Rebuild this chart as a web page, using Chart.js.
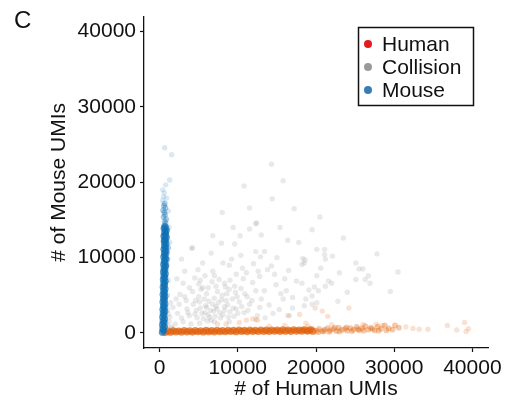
<!DOCTYPE html>
<html><head><meta charset="utf-8">
<script src="https://cdn.jsdelivr.net/npm/chart.js@4.4.1/dist/chart.umd.min.js"></script>
<style>html,body{margin:0;padding:0;background:#fff;}#wrap{width:516px;height:404px;}</style>
</head><body><div id="wrap"><canvas id="c" width="516" height="404"></canvas></div>
<script>
const panelLabel = 'C';
const seriesNames = ['Human', 'Collision', 'Mouse'];
const legendColors = ['#e41a1c', '#9a9a9a', '#377eb8'];
const xTicks = [0, 10000, 20000, 30000, 40000];
const yTicks = [0, 10000, 20000, 30000, 40000];
const xTitle = '# of Human UMIs';
const yTitle = '# of Mouse UMIs';

// Mouse cells: dense core, middle and sparse tail
const mouseCoreX = [350,500,420,600,380,550,450,620,400,560,470,640,420,580,490,650,430,600,500,660,450,610,520,680,460,630,540,700,480,650,560,720,500,670,580,740,520,690,600,760,540,710,620,780,560,730,640,800,600,620,820,560,750,660,840,580,700];
const mouseCoreY = [100,350,600,850,1100,1350,1600,1850,2100,2350,2600,2850,3100,3350,3600,3850,4100,4350,4600,4850,5100,5350,5600,5850,6100,6350,6600,6850,7100,7350,7600,7850,8100,8350,8600,8850,9100,9350,9600,9850,10100,10350,10600,10850,11100,11350,11600,11850,12100,12350,12600,12850,13100,13350,13600,13850,14100];
const mouseMidX = [900,1000,950,1100,850,700,950,600,800,700,900,550,750,650,850,500,700,600,450,750,550,650];
const mouseMidY = [9000,9800,10600,11300,12300,12500,12800,13000,13300,13600,13900,14200,14500,14800,15100,15400,15700,16000,16300,16600,16900,17200];
const mouseTailX = [380,510,770,1280,1530,640,900,600,400,1100,1200,1300,1100,1000,1000];
const mouseTailY = [17600,18100,19660,20300,23670,24580,17900,18600,19000,16200,14000,12000,7000,5000,3000];

// Human cells
const humanCoreX = [700,1050,1400,1750,2100,2450,2800,3150,3500,3850,4200,4550,4900,5250,5600,5950,6300,6650,7000,7350,7700,8050,8400,8750,9100,9450,9800,10150,10500,10850,11200,11550,11900,12250,12600,12950,13300,13650,14000,14350,14700,15050,15400,15750,16100,16450,16800,17150,17500,17850,18200,18550,18900,19250,19600];
const humanCoreY = [50,250,100,280,130,260,110,300,150,270,120,310,160,290,140,330,170,300,150,340,180,320,160,350,190,330,170,360,200,340,180,370,210,350,190,380,220,360,200,390,230,370,210,400,240,380,220,410,250,390,230,420,260,400,240];
const humanMidX = [20100,20400,20800,21100,21500,21800,22200,22600,22900,23300,23700,24000,24400,24800,25200,25500,25900,26300,26700,27000,27500,27900,28300,28800,29300,29800,30100,30600,18300,18900,19500,20300,21000,21700,22400,23000,23900,24600,25400,26100,27200,28000,29000];
const humanMidY = [300,550,250,450,650,350,500,250,700,400,550,300,650,450,800,350,600,900,450,700,350,850,550,1000,600,450,1000,700,500,150,550,100,200,150,700,200,750,250,500,300,550,300,350];
const humanTailX = [24200,19900,20800,21500,18700,36800,39000,38000,39200,39500,34300,33200,32400,31500,11100,11900,12300,16400,8500,7400,10200,12500,17900,14000,16000,22000,19000,26000,28500,27700];
const humanTailY = [3300,3300,2900,2200,1300,1000,1400,400,200,560,480,480,600,800,1700,1900,1800,2300,1200,1200,1400,1700,2460,900,1000,1100,900,1100,1000,1160];

// Collisions
const collisionX = [14300,14400,17200,12400,6800,4100,19500,20100,21100,21100,21200,22100,18600,18200,20600,25100,25500,26000,26700,25100,26300,26900,30500,20100,21600,22000,18200,21200,19800,19100,20300,19500,18500,19500,20100,11500,12300,9400,11500,15400,10300,7900,9600,4200,6600,16400,10400,12300,13400,12900,18300,8100,8900,5500,4900,6800,9800,11100,13800,14700,12800,17500,18500,3000,3800,5500,7200,8900,10400,12300,13400,14900,16200,17000,18700,2100,3400,5100,6000,7200,8300,9800,11300,12800,14500,16600,2300,3800,4700,6400,1300,1700,3000,5100,7000,8900,2600,4500,5200,5800,6300,6900,7500,8100,8700,9300,5000,6000,7000,8000,4300,5600,6600,7800,9500,10200,10800,11800,3500,2800,4000,6200,7300,8500,9000,5300,6700,8300,9600,10900,11900,13000,14000,15300,15800,2000,1500,2500,1200,2200,3200,4500,5800,7600,9200,10600,12000,15000,16500,17800,20500,23500,24000,22800,27800,29500,23000,13000,8000,10800,15800,800,1100,900,1400,1000,1600,700,
  4800,5400,5900,6500,7100,7700,8300,8800,9400,10000,4600,5700,6800,7900,8600,9700,10500,11200,4200,5000,6200,7400,8400,6100,3600,3200,9900,11500,12500,13500,7000,5200,9000,10700,12600,14300,16000,15500,17000,2800];
const collisionY = [22400,17800,16500,14600,12900,11250,13700,11100,11100,10400,9800,10200,9700,9100,8600,9300,8500,8500,7600,7100,7100,6600,8100,7600,6900,6600,6600,6200,6100,5700,5600,4900,3600,3800,4000,16600,14500,14000,13800,14000,12900,11900,11800,11300,10600,12300,10300,10800,10800,10100,9900,9300,9000,9300,8400,8200,7800,8000,8400,7800,7500,6900,9300,6600,6000,6000,6200,5800,5900,5600,5600,6400,5600,4700,4500,4500,4300,4100,3400,3500,3000,3200,3000,3400,2600,2300,2600,2300,3000,2100,2100,3400,1500,1300,1500,1500,5100,2500,3300,2700,4200,2900,4000,2400,3700,4500,4800,5200,4600,5000,3800,1900,1700,2000,2200,4100,2700,4300,3200,2000,1200,2400,3200,4300,2800,5800,6800,6600,6200,5200,6700,4500,3700,3100,4500,1200,800,3800,1500,7200,8200,7300,7600,7100,9800,8600,9200,10000,8300,12000,15400,12600,5400,4200,10500,5500,8000,13000,16000,19500,20200,1500,2500,3500,4000,1000,600,700,
  2000,2600,3600,3000,2200,2700,3500,2100,3300,2600,4300,4500,3800,4400,5200,5400,3500,4800,5500,6500,6000,5500,6100,1600,2700,4800,4800,3800,2300,2000,7600,7000,7000,7200,8200,8900,7200,5200,3300,9800];

const zip = (xs, ys) => xs.map((x, i) => ({x: x, y: ys[i]}));
const FONT = '"Liberation Sans", Arial, Helvetica, sans-serif';
const TXT = '#111111';

function ds(xs, ys, color, r) {
  return {data: zip(xs, ys), backgroundColor: color, borderWidth: 0, pointRadius: r, pointHoverRadius: r};
}

const legendPlugin = {
  id: 'customLegend',
  afterDraw(chart) {
    const ctx = chart.ctx;
    ctx.save();
    ctx.fillStyle = TXT;
    ctx.font = '24px ' + FONT;
    ctx.textBaseline = 'middle';
    ctx.textAlign = 'left';
    ctx.fillText(panelLabel, 14, 21);
    ctx.strokeStyle = '#111';
    ctx.lineWidth = 1.5;
    ctx.strokeRect(358.5, 27.5, 115, 78);
    ctx.font = '21px ' + FONT;
    seriesNames.forEach((name, i) => {
      const y = 44 + i * 23;
      ctx.beginPath();
      ctx.fillStyle = legendColors[i];
      ctx.arc(368, y, 4, 0, Math.PI * 2);
      ctx.fill();
      ctx.fillStyle = TXT;
      ctx.fillText(name, 382, y + 1);
    });
    ctx.restore();
  }
};

const axisCommon = {
  type: 'linear',
  min: -2000,
  max: 42000,
  grid: {display: true, drawOnChartArea: false, drawTicks: true, tickLength: 4, color: '#111', tickWidth: 1.2},
  border: {display: true, color: '#111', width: 1.3},
  ticks: {font: {family: FONT, size: 21}, color: TXT, padding: 4, maxRotation: 0, autoSkip: false,
          callback: v => String(v)}
};

new Chart(document.getElementById('c'), {
  type: 'scatter',
  data: {
    datasets: [
      ds(mouseCoreX, mouseCoreY, 'rgba(16,112,180,0.7)', 3.6),
      ds(humanCoreX, humanCoreY, 'rgba(224,96,10,0.7)', 3.6),
      ds(mouseMidX, mouseMidY, 'rgba(16,112,180,0.35)', 2.9),
      ds(humanMidX, humanMidY, 'rgba(224,96,10,0.35)', 2.9),
      ds(mouseTailX, mouseTailY, 'rgba(16,112,180,0.16)', 2.7),
      ds(humanTailX, humanTailY, 'rgba(224,96,10,0.18)', 2.7),
      ds(collisionX, collisionY, 'rgba(140,140,140,0.19)', 2.7)
    ]
  },
  options: {
    responsive: false,
    animation: false,
    devicePixelRatio: 1,
    layout: {padding: {top: 10, right: 28, left: 0, bottom: 0}},
    plugins: {legend: {display: false}, tooltip: {enabled: false}},
    scales: {
      x: Object.assign({}, axisCommon, {
        position: 'bottom',
        afterBuildTicks: s => { s.ticks = xTicks.map(v => ({value: v})); },
        afterFit: s => { s.height = 56; },
        title: {display: true, text: xTitle, font: {family: FONT, size: 21}, color: TXT, padding: {top: 0, bottom: 2}}
      }),
      y: Object.assign({}, axisCommon, {
        position: 'left',
        afterBuildTicks: s => { s.ticks = yTicks.map(v => ({value: v})); },
        afterFit: s => { s.width = 144; },
        title: {display: true, text: yTitle, font: {family: FONT, size: 21}, color: TXT, padding: {top: 47, bottom: 0}}
      })
    }
  },
  plugins: [legendPlugin]
});
</script>
</body></html>
